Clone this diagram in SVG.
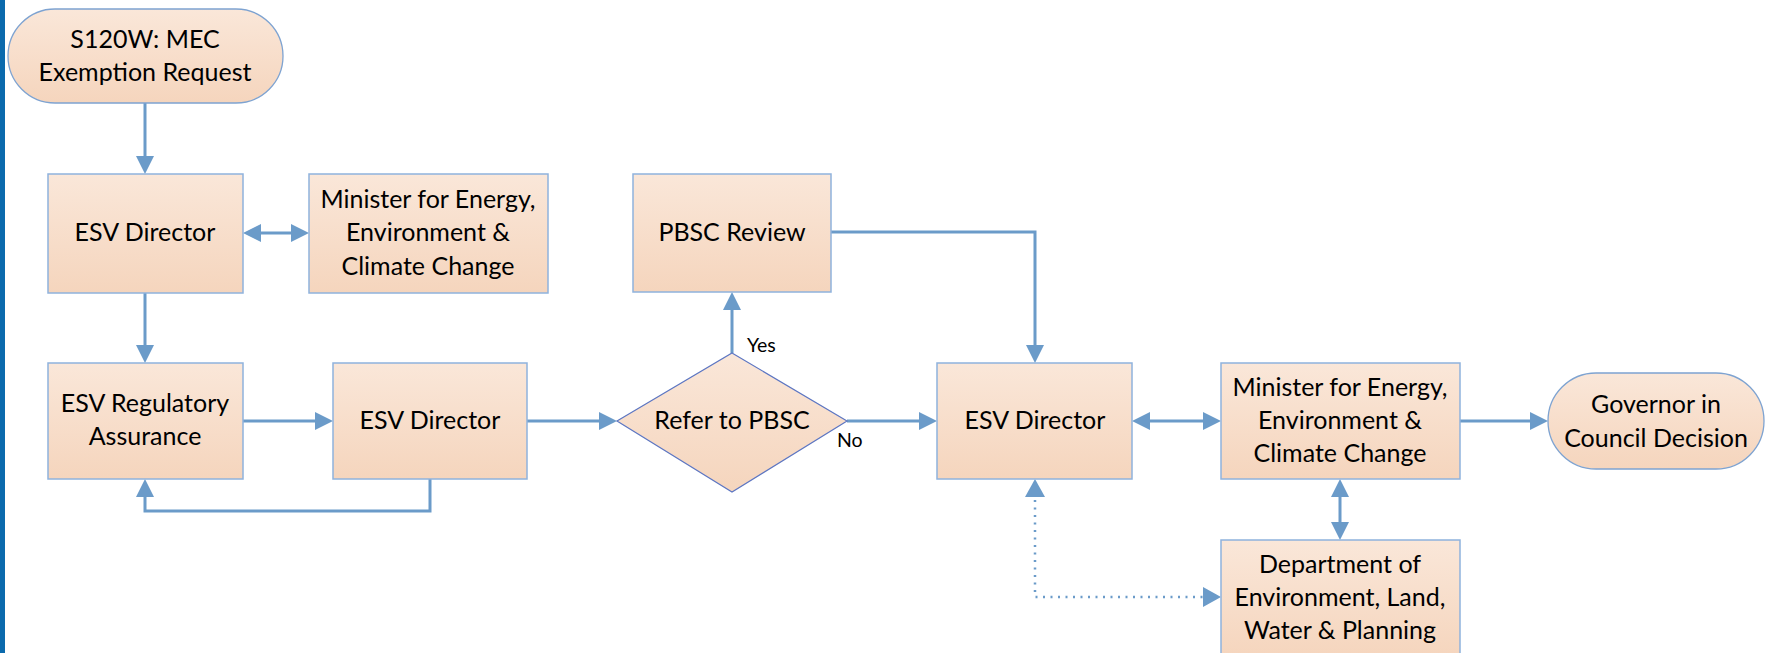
<svg xmlns="http://www.w3.org/2000/svg" width="1772" height="653" viewBox="0 0 1772 653">
<defs>
<linearGradient id="fill" x1="0" y1="0" x2="0" y2="1">
<stop offset="0" stop-color="#fae7d9"/>
<stop offset="1" stop-color="#f5d5bd"/>
</linearGradient>
<marker id="ah" markerUnits="userSpaceOnUse" markerWidth="18" markerHeight="18" viewBox="0 0 18 18" refX="12" refY="9" orient="auto-start-reverse">
<path d="M0,0 L18,9 L0,18 z" fill="#6b9bc9"/>
</marker>
<marker id="ahd" markerUnits="userSpaceOnUse" markerWidth="18" markerHeight="20" viewBox="0 0 18 20" refX="12" refY="10" orient="auto-start-reverse">
<path d="M0,0 L18,10 L0,20 z" fill="#6b9bc9"/>
</marker>
</defs>
<style>
.box{fill:url(#fill);stroke:#8fb2dd;stroke-width:1.5}
.term{fill:url(#fill);stroke:#7ea3d1;stroke-width:1.3}
.dia{fill:url(#fill);stroke:#5d76c2;stroke-width:1.2}
.t{font-family:Lato,"Liberation Sans",sans-serif;font-size:25px;fill:#000;text-anchor:middle}
.s{font-family:Lato,"Liberation Sans",sans-serif;font-size:19.5px;fill:#000}
.c{fill:none;stroke:#6b9bc9;stroke-width:3}
.d{fill:none;stroke:#6b9bc9;stroke-width:2.5;stroke-dasharray:2 5.5}
</style>
<rect x="0" y="0" width="5" height="653" fill="#0b6aad"/>

<g id="connectors">
<path class="c" d="M145,103 V168" marker-end="url(#ah)"/>
<path class="c" d="M249,233 H303" marker-start="url(#ah)" marker-end="url(#ah)"/>
<path class="c" d="M145,293 V357" marker-end="url(#ah)"/>
<path class="c" d="M243,421 H327" marker-end="url(#ah)"/>
<path class="c" d="M430,479 V511 H145 V485" marker-end="url(#ah)"/>
<path class="c" d="M527,421 H611" marker-end="url(#ah)"/>
<path class="c" d="M732,353 V298" marker-end="url(#ah)"/>
<path class="c" d="M847,421 H931" marker-end="url(#ah)"/>
<path class="c" d="M831,232 H1035 V357" marker-end="url(#ah)"/>
<path class="c" d="M1138,421 H1215" marker-start="url(#ah)" marker-end="url(#ah)"/>
<path class="c" d="M1460,421 H1542" marker-end="url(#ah)"/>
<path class="c" d="M1340,485 V534" marker-start="url(#ah)" marker-end="url(#ah)"/>
<path class="d" d="M1035,500 V597 H1208"/>
<path d="M1035,490 V485" fill="none" stroke="none" marker-end="url(#ahd)"/>
<path d="M1208,597 H1215" fill="none" stroke="none" marker-end="url(#ahd)"/>
<text class="s" x="747" y="352">Yes</text>
<text class="s" x="837" y="447">No</text>
</g>

<g id="start">
<rect class="term" x="8" y="9" width="275" height="94" rx="47" ry="47"/>
<text class="t" x="145" y="48">S120W: MEC</text>
<text class="t" x="145" y="81">Exemption Request</text>
</g>
<g id="esv-director-1">
<rect class="box" x="48" y="174" width="195" height="119"/>
<text class="t" x="145" y="241">ESV Director</text>
</g>
<g id="minister-1">
<rect class="box" x="309" y="174" width="239" height="119"/>
<text class="t" x="428" y="208">Minister for Energy,</text>
<text class="t" x="428" y="241">Environment &amp;</text>
<text class="t" x="428" y="275">Climate Change</text>
</g>
<g id="esv-regulatory">
<rect class="box" x="48" y="363" width="195" height="116"/>
<text class="t" x="145" y="412">ESV Regulatory</text>
<text class="t" x="145" y="445">Assurance</text>
</g>
<g id="esv-director-2">
<rect class="box" x="333" y="363" width="194" height="116"/>
<text class="t" x="430" y="429">ESV Director</text>
</g>
<g id="pbsc-review">
<rect class="box" x="633" y="174" width="198" height="118"/>
<text class="t" x="732" y="241">PBSC Review</text>
</g>
<g id="refer-pbsc">
<polygon class="dia" points="732,353 847,421 732,492 617,421"/>
<text class="t" x="732" y="429">Refer to PBSC</text>
</g>
<g id="esv-director-3">
<rect class="box" x="937" y="363" width="195" height="116"/>
<text class="t" x="1035" y="429">ESV Director</text>
</g>
<g id="minister-2">
<rect class="box" x="1221" y="363" width="239" height="116"/>
<text class="t" x="1340" y="396">Minister for Energy,</text>
<text class="t" x="1340" y="429">Environment &amp;</text>
<text class="t" x="1340" y="462">Climate Change</text>
</g>
<g id="governor">
<rect class="term" x="1548" y="373" width="216" height="96" rx="48" ry="48"/>
<text class="t" x="1656" y="413">Governor in</text>
<text class="t" x="1656" y="447">Council Decision</text>
</g>
<g id="department">
<rect class="box" x="1221" y="540" width="239" height="119"/>
<text class="t" x="1340" y="573">Department of</text>
<text class="t" x="1340" y="606">Environment, Land,</text>
<text class="t" x="1340" y="639">Water &amp; Planning</text>
</g>
</svg>
